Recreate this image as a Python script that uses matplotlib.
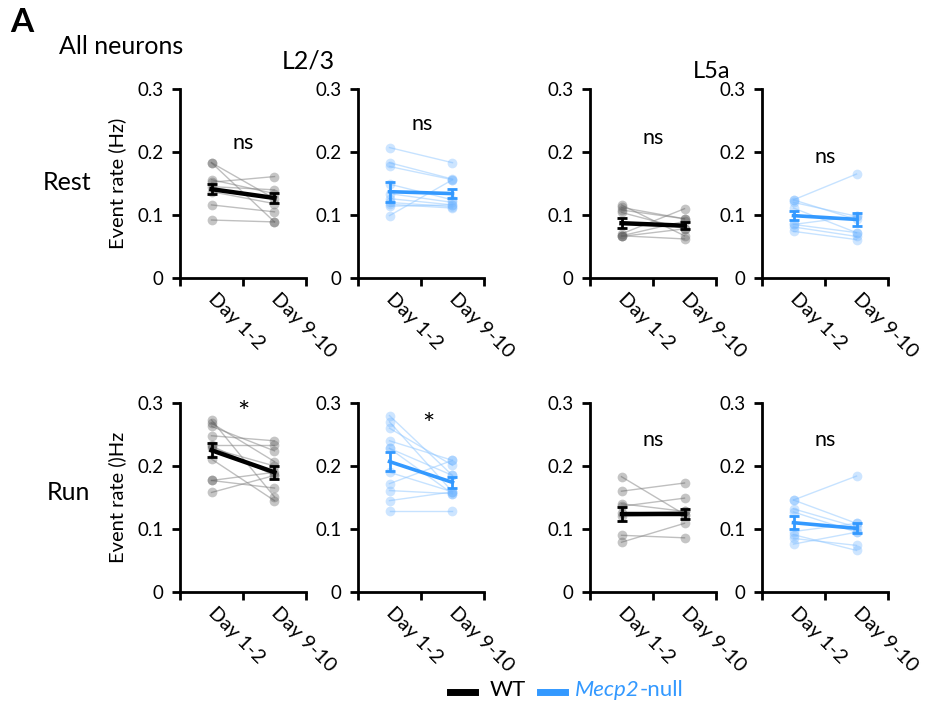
import numpy as np
import matplotlib
matplotlib.use("Agg")
import matplotlib.pyplot as plt
from matplotlib.lines import Line2D

plt.rcParams['font.family'] = ['Lato', 'DejaVu Sans']

days = ['Day 1-2', 'Day 9-10']
rows = ['Rest', 'Run']
layers = ['L2/3', 'L5a']

# individual traces (Day 1-2, Day 9-10)
rest_l23_wt = ([0.183, 0.183, 0.156, 0.152, 0.145, 0.137, 0.116, 0.092],
               [0.089, 0.126, 0.134, 0.161, 0.140, 0.118, 0.105, 0.089])
rest_l23_ko = ([0.207, 0.183, 0.177, 0.149, 0.134, 0.126, 0.117, 0.114, 0.099, 0.120],
               [0.183, 0.157, 0.156, 0.124, 0.120, 0.116, 0.111, 0.116, 0.156, 0.113])
rest_l5_wt = ([0.116, 0.112, 0.108, 0.104, 0.070, 0.067, 0.066, 0.067],
              [0.067, 0.094, 0.094, 0.078, 0.110, 0.062, 0.078, 0.090])
rest_l5_ko = ([0.124, 0.120, 0.124, 0.111, 0.085, 0.081, 0.074, 0.085],
              [0.165, 0.098, 0.093, 0.072, 0.098, 0.066, 0.061, 0.072])
run_l23_wt = ([0.273, 0.268, 0.263, 0.248, 0.234, 0.232, 0.228, 0.211, 0.177, 0.177, 0.158],
              [0.151, 0.207, 0.224, 0.240, 0.234, 0.185, 0.200, 0.145, 0.165, 0.190, 0.185])
run_l23_ko = ([0.280, 0.270, 0.260, 0.240, 0.228, 0.228, 0.190, 0.172, 0.161, 0.145, 0.128],
              [0.185, 0.159, 0.201, 0.209, 0.156, 0.185, 0.159, 0.209, 0.156, 0.159, 0.128])
run_l5_wt = ([0.183, 0.160, 0.140, 0.136, 0.120, 0.090, 0.079, 0.125],
             [0.123, 0.173, 0.128, 0.149, 0.123, 0.086, 0.109, 0.128])
run_l5_ko = ([0.146, 0.132, 0.127, 0.096, 0.091, 0.085, 0.076, 0.146],
             [0.184, 0.103, 0.095, 0.109, 0.066, 0.074, 0.095, 0.109])

# mean and SEM shown in each panel
mean_vals = {'rest_l23_wt': (0.141, 0.127), 'rest_l23_ko': (0.137, 0.134),
             'rest_l5_wt': (0.087, 0.083), 'rest_l5_ko': (0.099, 0.093),
             'run_l23_wt': (0.225, 0.190), 'run_l23_ko': (0.207, 0.174),
             'run_l5_wt': (0.124, 0.124), 'run_l5_ko': (0.110, 0.101)}
sem_vals = {'rest_l23_wt': (0.008, 0.0075), 'rest_l23_ko': (0.016, 0.007),
            'rest_l5_wt': (0.008, 0.006), 'rest_l5_ko': (0.007, 0.010),
            'run_l23_wt': (0.011, 0.010), 'run_l23_ko': (0.015, 0.009),
            'run_l5_wt': (0.011, 0.008), 'run_l5_ko': (0.010, 0.008)}

# significance labels and their (x, y) in data units
stats = {'rest_l23_wt': ('ns', 1.0, 0.214), 'rest_l23_ko': ('ns', 1.02, 0.244),
         'rest_l5_wt': ('ns', 1.0, 0.222), 'rest_l5_ko': ('ns', 1.0, 0.192),
         'run_l23_wt': ('*', 1.0, 0.282), 'run_l23_ko': ('*', 1.12, 0.264),
         'run_l5_wt': ('ns', 1.0, 0.242), 'run_l5_ko': ('ns', 1.0, 0.242)}

panels = {'rest_l23_wt': rest_l23_wt, 'rest_l23_ko': rest_l23_ko,
          'rest_l5_wt': rest_l5_wt, 'rest_l5_ko': rest_l5_ko,
          'run_l23_wt': run_l23_wt, 'run_l23_ko': run_l23_ko,
          'run_l5_wt': run_l5_wt, 'run_l5_ko': run_l5_ko}

blue = '#3399ff'
styles = {'wt': dict(line='0.5', dot='0.35', mean='black', lw=3.2),
          'ko': dict(line='#8fc7ff', dot='#70b5ff', mean=blue, lw=2.6)}

W, H = 927, 719
fig = plt.figure(figsize=(W / 100, H / 100), dpi=100)

lefts = [180, 358, 590, 762]
bottoms = {'rest': 278, 'run': 592}
aw, ah = 126, 189

order = [('l23', 'wt'), ('l23', 'ko'), ('l5', 'wt'), ('l5', 'ko')]
for row in ['rest', 'run']:
    for i, (lay, gen) in enumerate(order):
        key = f'{row}_{lay}_{gen}'
        ax = fig.add_axes([lefts[i] / W, 1 - bottoms[row] / H, aw / W, ah / H])
        st = styles[gen]
        d1, d9 = panels[key]
        for a, b in zip(d1, d9):
            ax.plot([0.5, 1.5], [a, b], color=st['line'], lw=1.0, alpha=0.5, zorder=1)
            ax.plot([0.5, 1.5], [a, b], 'o', color=st['dot'], ms=7, alpha=0.35,
                    mec='none', zorder=2)
        m, s = mean_vals[key], sem_vals[key]
        ax.errorbar([0.5, 1.5], m, yerr=s, color=st['mean'], lw=st['lw'],
                    capsize=3.5, capthick=2, elinewidth=2, zorder=3)
        txt, tx, ty = stats[key]
        ax.text(tx, ty, txt, ha='center', va='center',
                fontsize=21 if txt == '*' else 15.5)

        ax.set_xlim(0, 2)
        ax.set_ylim(0, 0.3)
        ax.set_yticks([0, 0.1, 0.2, 0.3])
        ax.set_yticklabels(['0', '0.1', '0.2', '0.3'], fontsize=13.5)
        ax.set_xticks([0, 1, 2])
        ax.set_xticklabels([])
        ax.set_xticks([0.5, 1.5], minor=True)
        ax.set_xticklabels(days, minor=True, rotation=-45, rotation_mode='anchor',
                           ha='left', va='center', fontsize=14.5)
        ax.tick_params(axis='x', which='minor', length=0, pad=13)
        ax.tick_params(axis='both', which='major', direction='out', length=6,
                       width=2, pad=6)
        for sp in ['top', 'right']:
            ax.spines[sp].set_visible(False)
        for sp in ['left', 'bottom']:
            ax.spines[sp].set_linewidth(2)
        ax.patch.set_alpha(0)
        if i == 0:
            ylab = 'Event rate (Hz)' if row == 'rest' else 'Event rate ()Hz'
            ax.set_ylabel(ylab, fontsize=14.5, labelpad=8)

fig.text(10 / W, 1 - 22 / H, 'A', fontsize=24, fontweight='bold', va='center')
fig.text(59 / W, 1 - 46 / H, 'All neurons', fontsize=18, va='center')
fig.text(308 / W, 1 - 61 / H, layers[0], fontsize=18, ha='center', va='center')
fig.text(712 / W, 1 - 71 / H, layers[1], fontsize=17, ha='center', va='center')
fig.text(43 / W, 1 - 183 / H, rows[0], fontsize=18, va='center')
fig.text(47 / W, 1 - 493 / H, rows[1], fontsize=18, va='center')

# legend
fig.add_artist(Line2D([450 / W, 475 / W], [1 - 692 / H] * 2, color='black', lw=5))
fig.text(490 / W, 1 - 690 / H, 'WT', fontsize=16, va='center')
fig.add_artist(Line2D([540 / W, 565 / W], [1 - 692 / H] * 2, color=blue, lw=5))
t = fig.text(575 / W, 1 - 690 / H, 'Mecp2', fontsize=16, va='center',
             color=blue, style='italic')
fig.canvas.draw()
bb = t.get_window_extent()
fig.text(bb.x1 / W, 1 - 690 / H, '-null', fontsize=16, va='center', color=blue)

fig.savefig('out.png', dpi=100)
